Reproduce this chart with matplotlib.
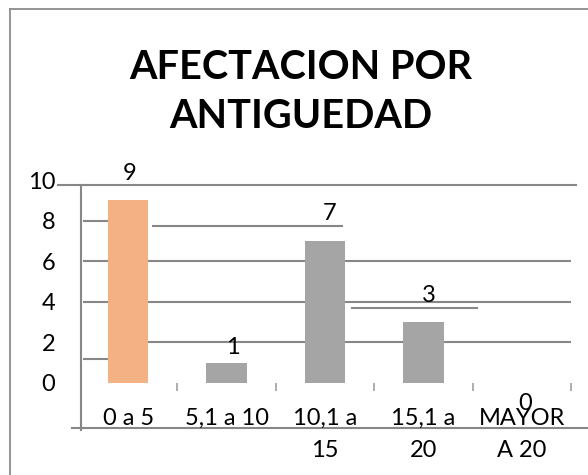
import matplotlib
matplotlib.use('Agg')
import matplotlib.pyplot as plt
from matplotlib.lines import Line2D

categories = ['0 a 5', '5,1 a 10', '10,1 a\n15', '15,1 a\n20', 'MAYOR\nA 20']
values = [9, 1, 7, 3, 0]
bar_colors = ['#F4B183', '#A5A5A5', '#A5A5A5', '#A5A5A5', '#A5A5A5']
y_ticks = [0, 2, 4, 6, 8, 10]
title = 'AFECTACION POR\nANTIGUEDAD'

# value labels are a bit off the bar tops in the original render
label_dx = [0.01, 0.06, 0.05, 0.06, 0.03]
label_dy = [1.3, 0.77, 1.37, 1.33, -0.99]

# gridline pieces as they show up in the original (y, x start, x end)
grid_y = [8, 6, 4, 1.18, 7.73, 6, 4, 2, 3.69]
grid_x0 = [-0.46, -0.46, -0.46, -0.46, 0.24, 0.2, 0.2, 0.2, 2.26]
grid_x1 = [-0.16, -0.16, -0.16, -0.16, 2.18, 4.5, 4.5, 4.5, 3.55]

GRID = '#878787'
plt.rcParams['font.family'] = ['Lato', 'DejaVu Sans']

fig = plt.figure(figsize=(5.88, 4.75), dpi=100)
ax = fig.add_axes([0.1344, 0.0989, 0.8367, 0.5221])
ax.set_xlim(-0.5, 4.5)
ax.set_ylim(-2.22, 10)
for s in ax.spines.values():
    s.set_visible(False)

x = list(range(len(categories)))
ax.bar(x, values, width=0.41, color=bar_colors, zorder=3)

ax.hlines(grid_y, grid_x0, grid_x1, color=GRID, lw=1.5, zorder=1)

# axis frame lines
ax.plot([-0.713, 4.55], [9.76, 9.76], color=GRID, lw=1.5, clip_on=False)
ax.plot([-0.48, -0.48], [9.76, -2.32], color=GRID, lw=1.5, clip_on=False)
ax.plot([-0.57, 4.7], [-2.22, -2.22], color=GRID, lw=1.5, clip_on=False)
ax.vlines([0.5, 1.5, 2.5, 3.5, 4.5], -0.4, 0, color='#A0A0A0', lw=1.2, clip_on=False)

ax.set_xticks([])
ax.set_yticks(y_ticks)
ax.set_yticklabels([str(t) for t in y_ticks])
ax.tick_params(axis='y', length=0, pad=17, labelsize=17)

for i, cat in enumerate(categories):
    ax.text(i, -1.24, cat, ha='center', va='top', fontsize=17, linespacing=1.65)

for i, v in enumerate(values):
    ax.text(i + label_dx[i], v + label_dy[i], str(v), ha='center', va='center', fontsize=17)

fig.text(0.512, 1 - 49 / 475, title, ha='center', va='top', fontsize=28.5,
         weight='bold', linespacing=1.39)

# outer chart border (only left and top visible)
fig.add_artist(Line2D([10 / 588, 10 / 588], [0, 1 - 9 / 475], transform=fig.transFigure,
                      color='#8C8C8C', lw=1.3))
fig.add_artist(Line2D([10 / 588, 1], [1 - 9 / 475, 1 - 9 / 475], transform=fig.transFigure,
                      color='#8C8C8C', lw=1.3))

fig.savefig('out.png', dpi=100)
